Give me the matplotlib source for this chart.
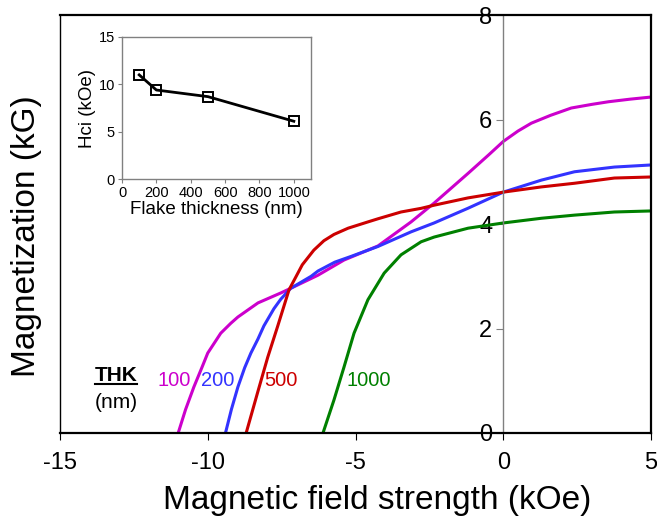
import matplotlib.pyplot as plt
import numpy as np

plt.rcParams['font.family'] = ['Liberation Sans', 'DejaVu Sans']
plt.rcParams['axes.unicode_minus'] = False

# demagnetization curves, field (kOe) vs magnetization (kG)
h_100 = [-11.0, -10.75, -10.47, -10.2, -10.0, -9.56, -9.22, -8.98, -8.3, -7.53, -7.19, -6.27, -5.39, -4.24,
         -3.12, -2.34, -1.19, -0.5, 0.0, 0.5, 0.95, 1.6, 2.3, 3.0, 3.56, 4.3, 5.0]
m_100 = [0.0, 0.45, 0.88, 1.25, 1.53, 1.91, 2.1, 2.22, 2.49, 2.68, 2.77, 3.02, 3.31, 3.58,
         4.04, 4.4, 4.97, 5.32, 5.58, 5.78, 5.93, 6.08, 6.22, 6.29, 6.34, 6.39, 6.43]

h_200 = [-9.4, -9.2, -8.98, -8.75, -8.54, -8.3, -8.1, -7.76, -7.53, -7.19, -6.5, -6.27, -5.7, -5.15, -4.24,
         -3.12, -2.34, -1.2, 0.0, 1.29, 2.41, 3.76, 5.0]
m_200 = [0.0, 0.45, 0.88, 1.25, 1.53, 1.8, 2.05, 2.38, 2.56, 2.77, 3.0, 3.1, 3.27, 3.38, 3.57,
         3.85, 4.02, 4.3, 4.61, 4.84, 5.0, 5.09, 5.13]

h_500 = [-8.7, -8.3, -7.97, -7.63, -7.25, -6.8, -6.41, -6.07, -5.73, -5.25, -4.58, -4.24, -3.46,
         -2.78, -2.34, -1.19, 0.0, 1.29, 2.41, 3.76, 5.0]
m_500 = [0.0, 0.8, 1.45, 2.05, 2.74, 3.22, 3.5, 3.68, 3.8, 3.92, 4.04, 4.1, 4.23,
         4.3, 4.36, 4.5, 4.61, 4.71, 4.78, 4.88, 4.9]

h_1000 = [-6.1, -5.73, -5.39, -5.05, -4.58, -4.03, -3.46, -2.78, -2.34, -1.19, 0.0, 1.29, 2.41, 3.76, 5.0]
m_1000 = [0.0, 0.63, 1.26, 1.91, 2.55, 3.06, 3.41, 3.66, 3.75, 3.92, 4.02, 4.11, 4.17, 4.23, 4.25]

# inset: coercivity vs flake thickness
thickness = [100, 200, 500, 1000]
hci = [11.0, 9.4, 8.7, 6.1]

fig = plt.figure(figsize=(6.57, 5.18), dpi=100)
ax = fig.add_axes([0.0913, 0.1641, 0.8996, 0.8069])

ax.plot(h_100, m_100, color='#cc00cc', lw=2.2)
ax.plot(h_200, m_200, color='#3333ff', lw=2.2)
ax.plot(h_500, m_500, color='#cc0000', lw=2.2)
ax.plot(h_1000, m_1000, color='#008000', lw=2.2)

ax.set_xlim(-15, 5)
ax.set_ylim(0, 8)
ax.set_xticks([-15, -10, -5, 0, 5])
ax.set_yticks([0, 2, 4, 6, 8])

ax.spines['left'].set_position(('data', 0))
ax.spines['left'].set_color('gray')
ax.spines['left'].set_linewidth(1)
for s in ['top', 'right', 'bottom']:
    ax.spines[s].set_linewidth(1.6)
ax.axvline(-15, color='black', lw=1, clip_on=False)

ax.tick_params(axis='x', direction='out', length=5, labelsize=17, pad=9)
ax.tick_params(axis='y', direction='out', length=5, labelsize=17, pad=3, color='gray')

ax.set_xlabel('Magnetic field strength (kOe)', fontsize=24)
ax.xaxis.set_label_coords(0.536, -0.124, transform=ax.transAxes)
ax.xaxis.label.set_va('top')
fig.text(0.04, 0.544, 'Magnetization (kG)', rotation=90, fontsize=24,
         ha='center', va='center')

# thickness labels
ax.text(-13.1, 1.11, 'THK', fontsize=15, fontweight='bold', ha='center', va='center')
ax.plot([-13.8, -12.4], [0.93, 0.93], color='black', lw=1.5)
ax.text(-13.1, 0.58, '(nm)', fontsize=15, ha='center', va='center')
ax.text(-11.15, 1.0, '100', fontsize=14.5, color='#cc00cc', ha='center', va='center')
ax.text(-9.66, 1.0, '200', fontsize=14.5, color='#3333ff', ha='center', va='center')
ax.text(-7.53, 1.0, '500', fontsize=14.5, color='#cc0000', ha='center', va='center')
ax.text(-4.54, 1.0, '1000', fontsize=14.5, color='#008000', ha='center', va='center')

# inset
ins = fig.add_axes([0.1857, 0.6544, 0.2877, 0.2742])
ins.plot(thickness, hci, color='black', lw=2, marker='s', ms=7,
         mfc='none', mec='black', mew=1.4)
ins.set_xlim(0, 1100)
ins.set_ylim(0, 15)
ins.set_xticks([0, 200, 400, 600, 800, 1000])
ins.set_yticks([0, 5, 10, 15])
for s in ins.spines.values():
    s.set_color('gray')
    s.set_linewidth(1)
ins.tick_params(direction='out', length=3, labelsize=10.5, color='gray', pad=2)
ins.set_xlabel('Flake thickness (nm)', fontsize=13.5, labelpad=1)
ins.set_ylabel('Hci (kOe)', fontsize=13.5, labelpad=2)

fig.savefig('out.png', dpi=100)
